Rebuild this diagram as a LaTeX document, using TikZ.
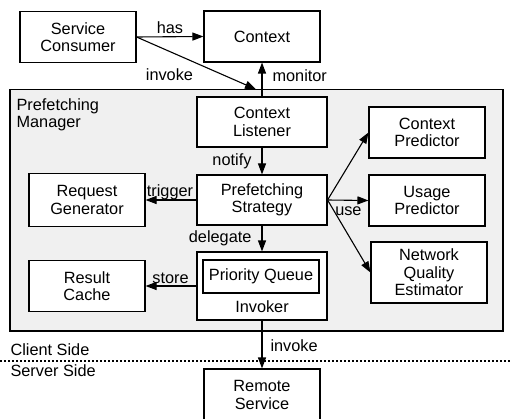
\documentclass[tikz,border=0pt]{standalone}
\usepackage{fontspec}
\setmainfont{Liberation Sans}
\usetikzlibrary{arrows.meta}
\begin{document}
\begin{tikzpicture}[x=1pt, y=-1pt, line width=1.1pt,
  every node/.style={font=\fontsize{16.3}{17.4}\selectfont},
  box/.style={draw, fill=white, align=center, inner sep=2pt, minimum width=116pt, minimum height=51pt},
  lbl/.style={inner sep=1.5pt},
  flow/.style={-{Triangle[length=11pt, width=8pt]}}]
\useasboundingbox (0,0) rectangle (510,419);
\node[draw, fill=gray!12, minimum width=493pt, minimum height=241.7pt, inner sep=0pt] (manager) at (256.5,210.15) {};
\node[anchor=north west, align=left, inner sep=0pt] (managername) at (16,98) {Prefetching\\Manager};
\node[box] (consumer) at (78,37) {Service\\Consumer};
\node[box] (context) at (262,36.5) {Context};
\coordinate (mgrtop) at (256,89.3);
\node[box, minimum width=130pt, minimum height=50pt] (listener) at (262,122) {Context\\Listener};
\node[box, minimum width=130pt, minimum height=50pt] (strategy) at (262,200) {Prefetching\\Strategy};
\node[box, minimum height=53pt] (generator) at (87,200) {Request\\Generator};
\node[box, minimum width=130pt, minimum height=68pt] (invoker) at (262,286) {};
\node[box, minimum height=33pt] (queue) at (261,276.5) {Priority Queue};
\node[anchor=base, inner sep=0pt] (invokername) at (262,312.7) {Invoker};
\node[box] (cache) at (87,286) {Result\\Cache};
\node[box] (ctxpredictor) at (427,132.5) {Context\\Predictor};
\node[box] (usagepredictor) at (427,200.5) {Usage\\Predictor};
\node[box, minimum height=61pt] (estimator) at (429,272.5) {Network\\Quality\\Estimator};
\node[box, minimum height=52pt] (remote) at (262,395) {Remote\\Service};
\draw[flow] (consumer.east) -- node[lbl, anchor=base, yshift=3.5pt] {has} (context.west);
\draw[flow] (consumer.east) -- node[lbl, pos=0.49, anchor=base east, yshift=-17.4pt] {invoke} (mgrtop);
\draw[flow] (listener.north) -- node[lbl, pos=0.44, anchor=base west, xshift=8.5pt] {monitor} (context.south);
\draw[flow] (listener.south) -- node[lbl, pos=0.68, anchor=base east, xshift=-8.5pt] {notify} (strategy.north);
\draw[flow] (strategy.west) -- node[lbl, pos=0.52, anchor=base, yshift=3pt] {trigger} (generator.east);
\draw[flow] (strategy.south) -- node[lbl, pos=0.67, anchor=base east, xshift=-8.5pt] {delegate} (invoker.north);
\draw[flow] (invoker.west) -- node[lbl, pos=0.51, anchor=base, yshift=3pt] {store} (cache.east);
\draw[flow] (strategy.east) -- (ctxpredictor.west);
\draw[flow] (strategy.east) -- node[lbl, pos=0.51, anchor=base, yshift=-15pt] {use} (usagepredictor.west);
\draw[flow] (strategy.east) -- (estimator.west);
\draw[flow] (invoker.south) -- node[lbl, pos=0.65, anchor=base west, xshift=6.5pt] {invoke} (remote.north);
\draw[dash pattern=on 1.5pt off 2.5pt] (0,361) -- (510,361);
\node[anchor=base west, inner sep=0pt] (clientside) at (10,355) {Client Side};
\node[anchor=base west, inner sep=0pt] (serverside) at (10,376) {Server Side};
\end{tikzpicture}
\end{document}
